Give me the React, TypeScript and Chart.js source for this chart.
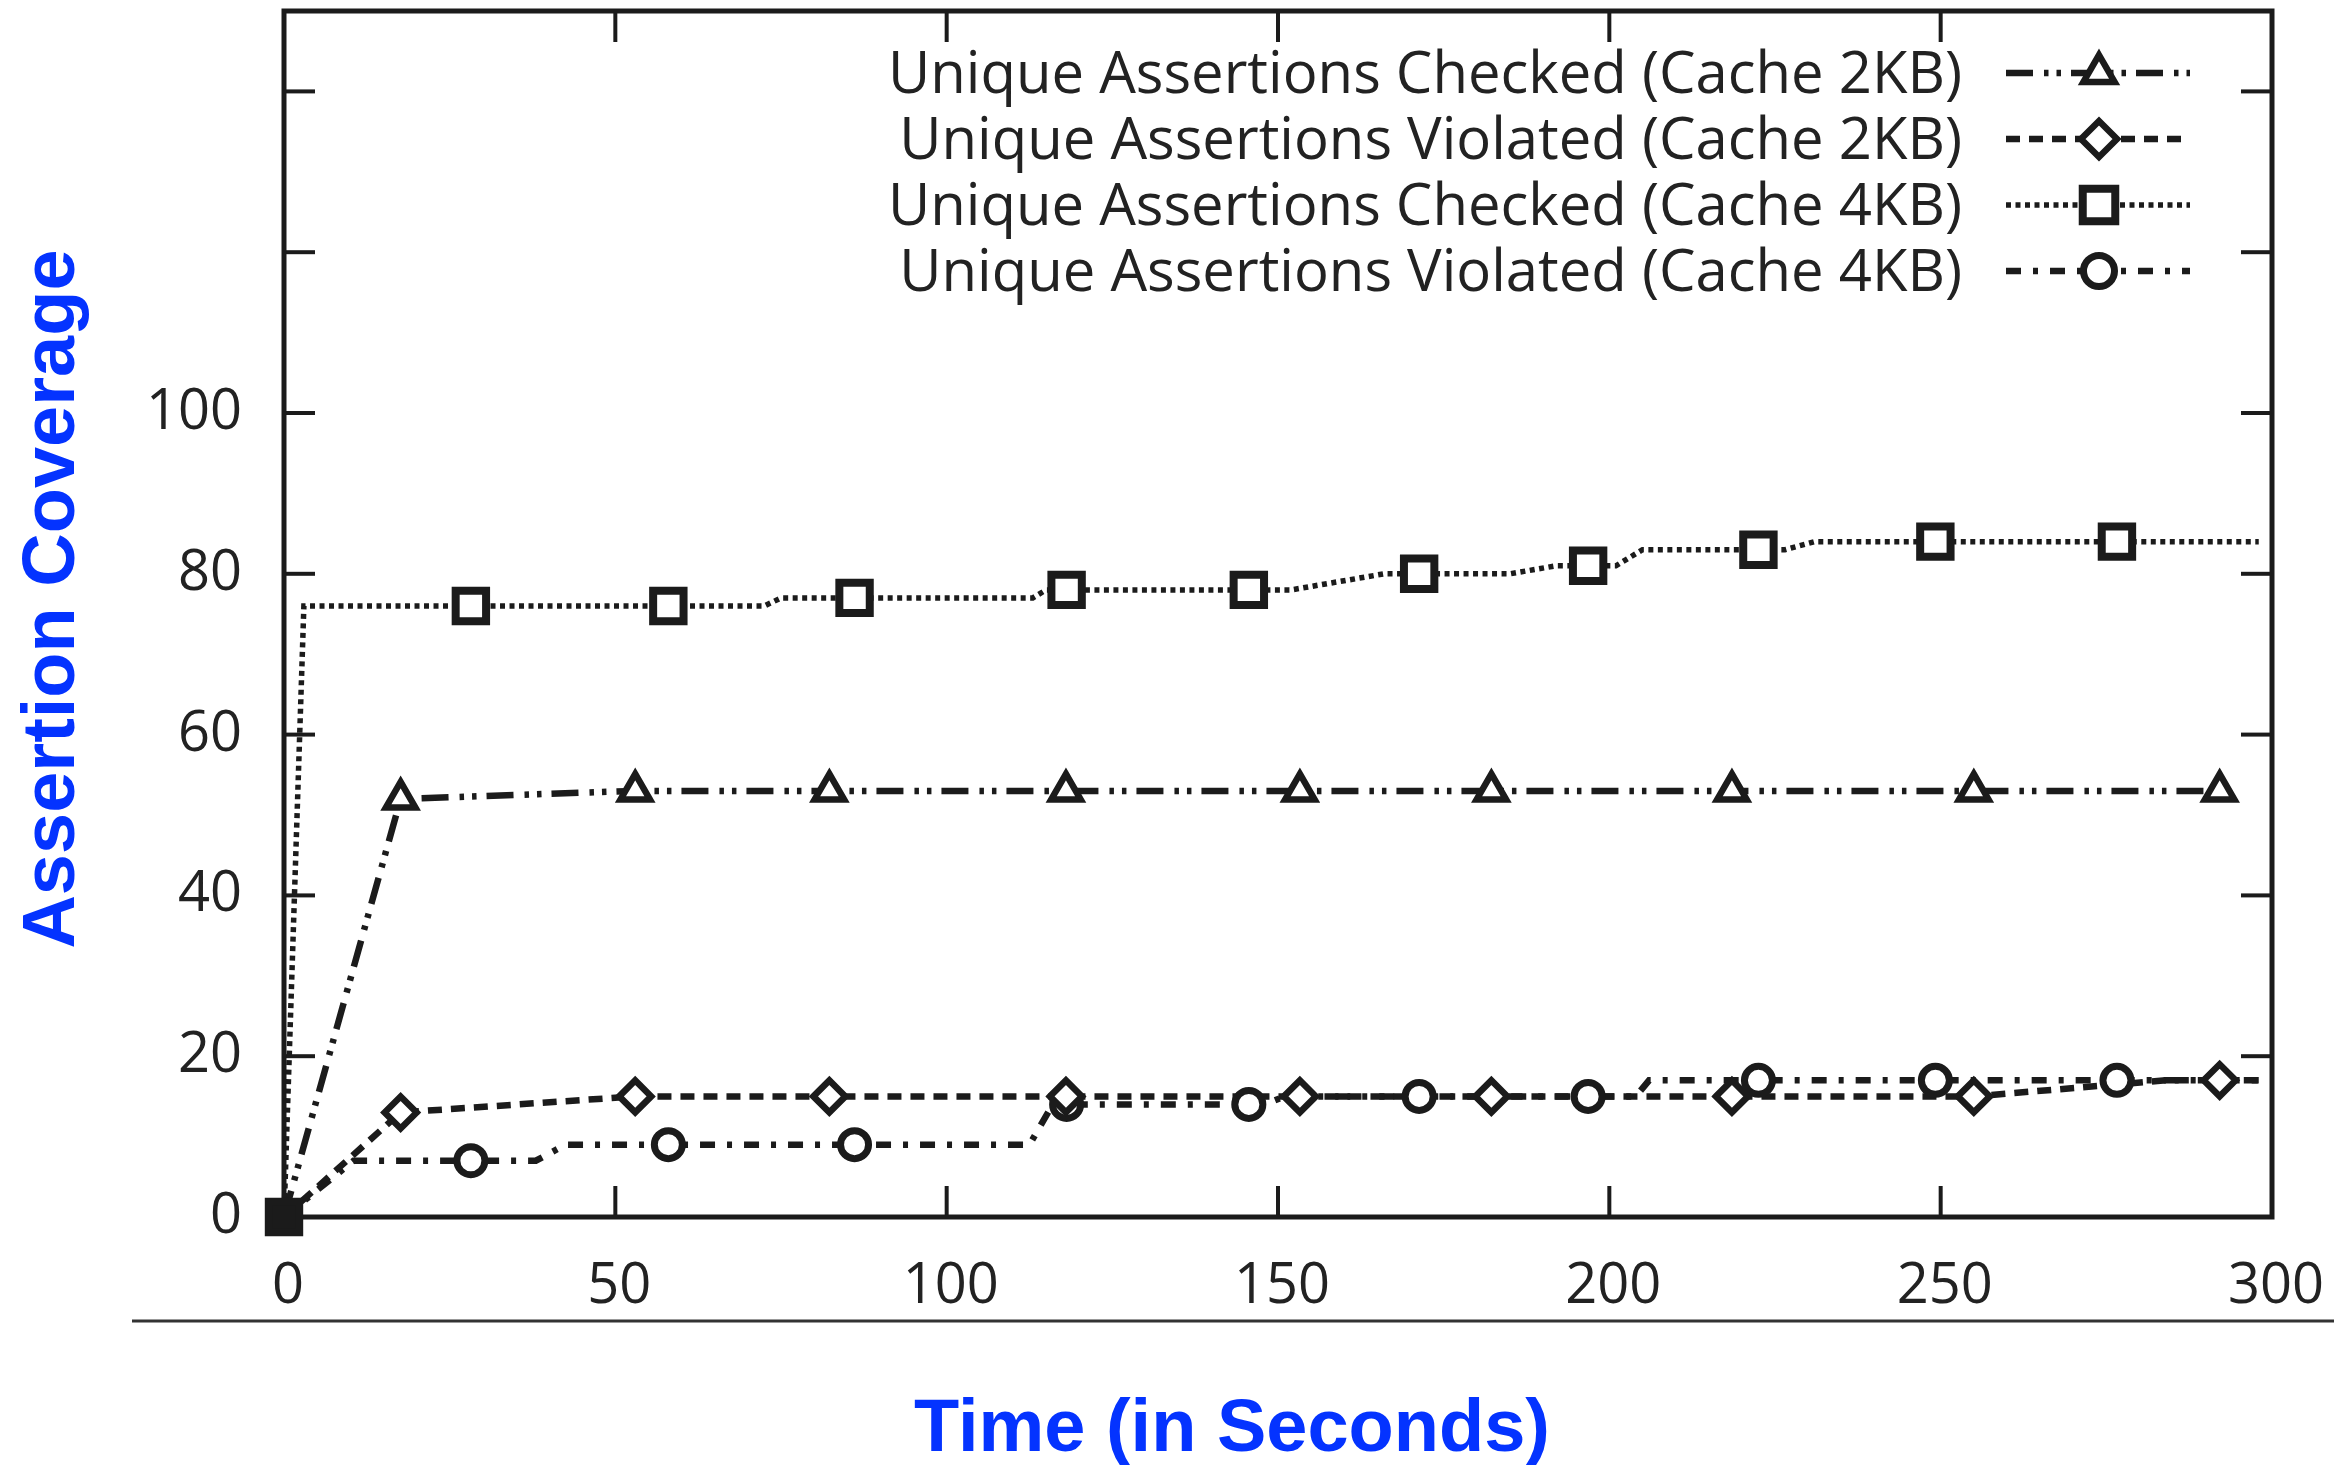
import React, { useEffect, useRef } from 'react';
import { Chart, registerables } from 'chart.js';
import { drawPoint } from 'chart.js/helpers';

Chart.register(...registerables);

// ---------- data ----------
const X_TICK_VALUES = [0, 50, 100, 150, 200, 250, 300];
const Y_TICK_VALUES = [0, 20, 40, 60, 80, 100, 120, 140];
const Y_LABEL_MAX = 100;
const X_MIN = 0;
const X_MAX = 300;
const Y_MIN = 0;
const Y_MAX = 150;

const SERIES_LABELS = [
  'Unique Assertions Checked (Cache 2KB)',
  'Unique Assertions Violated (Cache 2KB)',
  'Unique Assertions Checked (Cache 4KB)',
  'Unique Assertions Violated (Cache 4KB)',
];

const X_TITLE = 'Time (in Seconds)';
const Y_TITLE = 'Assertion Coverage';

// Checked 2KB (triangles)
const checked2kbLineX = [0, 17.6, 53, 82.3, 118, 153.3, 182.2, 218.5, 255, 292.1];
const checked2kbLineY = [0, 52, 53, 53, 53, 53, 53, 53, 53, 53];
const checked2kbMarkX = [17.6, 53, 82.3, 118, 153.3, 182.2, 218.5, 255, 292.1];
const checked2kbMarkY = [52, 53, 53, 53, 53, 53, 53, 53, 53];

// Violated 2KB (diamonds)
const violated2kbLineX = [0, 17.6, 53, 82.3, 118, 153.3, 182.2, 218.5, 255, 284, 292.1, 298];
const violated2kbLineY = [0, 13, 15, 15, 15, 15, 15, 15, 15, 17, 17, 17];
const violated2kbMarkX = [17.6, 53, 82.3, 118, 153.3, 182.2, 218.5, 255, 292.1];
const violated2kbMarkY = [13, 15, 15, 15, 15, 15, 15, 15, 17];

// Checked 4KB (squares)
const checked4kbLineX = [0, 3, 72.5, 75, 113, 115, 152, 166, 185, 192, 201, 205, 226.5, 231, 298];
const checked4kbLineY = [0, 76, 76, 77, 77, 78, 78, 80, 80, 81, 81, 83, 83, 84, 84];
const checked4kbMarkX = [0, 28.2, 58, 86.1, 118.1, 145.6, 171.3, 196.8, 222.5, 249.2, 276.6];
const checked4kbMarkY = [0, 76, 76, 77, 78, 78, 80, 81, 83, 84, 84];

// Violated 4KB (circles)
const violated4kbLineX = [0, 10.5, 38, 42.5, 112.5, 116, 148, 151, 204, 206, 298];
const violated4kbLineY = [0, 7, 7, 9, 9, 14, 14, 15, 15, 17, 17];
const violated4kbMarkX = [28.2, 58, 86.1, 118.1, 145.6, 171.3, 196.8, 222.5, 249.2, 276.6];
const violated4kbMarkY = [7, 9, 9, 14, 14, 15, 15, 17, 17, 17];

// ---------- styles ----------
const W = 2348;
const H = 1465;
const INK = '#1b1b1b';
const TEXT = '#222222';
const BLUE = '#0433ff';
const TICK_FONT = '"Open Sans", "DejaVu Sans", sans-serif';
const TITLE_FONT = '"Liberation Sans", Arial, sans-serif';

const STYLES = [
  { dash: [27, 11, 4.5, 8, 4.5, 10], width: 6.5, point: 'triangle', radius: 17, pbw: 6.5, legendRadius: 18 },
  { dash: [14, 9], width: 6.5, point: 'rectRot', radius: 16, pbw: 6.5, legendRadius: 18 },
  { dash: [5, 4.5], width: 5.5, point: 'rect', radius: 21.5, pbw: 8, legendRadius: 23 },
  { dash: [15, 12, 5, 12], width: 6.5, point: 'circle', radius: 14, pbw: 7, legendRadius: 15.5 },
];

const zipXY = (xs: number[], ys: number[]) => xs.map((x, i) => ({ x, y: ys[i] }));

const LINES = [
  zipXY(checked2kbLineX, checked2kbLineY),
  zipXY(violated2kbLineX, violated2kbLineY),
  zipXY(checked4kbLineX, checked4kbLineY),
  zipXY(violated4kbLineX, violated4kbLineY),
];
const MARKS = [
  zipXY(checked2kbMarkX, checked2kbMarkY),
  zipXY(violated2kbMarkX, violated2kbMarkY),
  zipXY(checked4kbMarkX, checked4kbMarkY),
  zipXY(violated4kbMarkX, violated4kbMarkY),
];

const framePlugin = {
  id: 'frame',
  beforeDatasetsDraw(chart: any) {
    const { ctx, chartArea: a, scales } = chart;
    ctx.save();
    ctx.strokeStyle = INK;
    ctx.setLineDash([]);
    ctx.lineWidth = 4;
    const tl = 31;
    const seg = (x1: number, y1: number, x2: number, y2: number) => {
      ctx.beginPath();
      ctx.moveTo(x1, y1);
      ctx.lineTo(x2, y2);
      ctx.stroke();
    };
    for (const v of X_TICK_VALUES) {
      if (v <= X_MIN || v >= X_MAX) continue;
      const px = scales.x.getPixelForValue(v);
      seg(px, a.bottom, px, a.bottom - tl);
      seg(px, a.top, px, a.top + tl);
    }
    for (const v of Y_TICK_VALUES) {
      if (v <= Y_MIN || v >= Y_MAX) continue;
      const py = scales.y.getPixelForValue(v);
      seg(a.left, py, a.left + tl, py);
      seg(a.right, py, a.right - tl, py);
    }
    ctx.lineWidth = 5;
    ctx.strokeRect(a.left, a.top, a.right - a.left, a.bottom - a.top);
    ctx.restore();
  },
  afterDraw(chart: any) {
    const { ctx } = chart;
    ctx.save();
    // separator line under x tick labels
    ctx.strokeStyle = '#333333';
    ctx.lineWidth = 3;
    ctx.setLineDash([]);
    ctx.beginPath();
    ctx.moveTo(132, 1321);
    ctx.lineTo(2334, 1321);
    ctx.stroke();

    // axis titles
    ctx.fillStyle = BLUE;
    ctx.font = `bold 74px ${TITLE_FONT}`;
    ctx.textAlign = 'center';
    ctx.textBaseline = 'alphabetic';
    ctx.fillText(X_TITLE, 1232, 1451);
    ctx.save();
    ctx.translate(74, 599);
    ctx.rotate(-Math.PI / 2);
    ctx.fillText(Y_TITLE, 0, 0);
    ctx.restore();

    // legend
    const rowY = [73, 139, 205, 271];
    ctx.font = `58px ${TICK_FONT}`;
    ctx.textAlign = 'right';
    for (let i = 0; i < SERIES_LABELS.length; i++) {
      const s = STYLES[i];
      const y = rowY[i];
      ctx.fillStyle = TEXT;
      ctx.fillText(SERIES_LABELS[i], 1962, y + 20);
      ctx.strokeStyle = INK;
      ctx.lineWidth = s.width;
      ctx.lineCap = 'butt';
      ctx.setLineDash(s.dash);
      ctx.beginPath();
      ctx.moveTo(2006, y);
      ctx.lineTo(2190, y);
      ctx.stroke();
      ctx.setLineDash([]);
      ctx.lineWidth = s.pbw;
      ctx.fillStyle = '#ffffff';
      ctx.strokeStyle = INK;
      drawPoint(ctx, { pointStyle: s.point, radius: s.legendRadius, borderWidth: s.pbw, rotation: 0 } as any, 2099, y);
    }
    ctx.restore();
  },
};

export default function App() {
  const ref = useRef<HTMLCanvasElement | null>(null);

  useEffect(() => {
    document.body.style.margin = '0';
    let chart: Chart | null = null;
    let cancelled = false;

    const build = () => {
      if (cancelled || !ref.current) return;
      const datasets: any[] = [];
      LINES.forEach((pts, i) => {
        const s = STYLES[i];
        datasets.push({
          label: SERIES_LABELS[i] + ' line',
          data: pts,
          borderColor: INK,
          borderWidth: s.width,
          borderDash: s.dash,
          borderCapStyle: 'butt',
          pointRadius: 0,
          tension: 0,
          fill: false,
          order: 2,
          clip: false,
        });
      });
      MARKS.forEach((pts, i) => {
        const s = STYLES[i];
        datasets.push({
          label: SERIES_LABELS[i],
          data: pts,
          showLine: false,
          pointStyle: s.point,
          pointRadius: s.radius,
          pointBorderWidth: s.pbw,
          pointBorderColor: INK,
          pointBackgroundColor: (c: any) =>
            pts[c.dataIndex] && pts[c.dataIndex].x === 0 && pts[c.dataIndex].y === 0 ? INK : '#ffffff',
          order: i === 2 ? 0 : 1,
          clip: false,
        });
      });

      chart = new Chart(ref.current, {
        type: 'line',
        data: { datasets },
        options: {
          animation: false,
          responsive: false,
          devicePixelRatio: 1,
          events: [],
          layout: { autoPadding: false, padding: { left: 0, right: 76, top: 11, bottom: 0 } },
          plugins: {
            legend: { display: false },
            tooltip: { enabled: false },
            title: { display: false },
          },
          scales: {
            x: {
              type: 'linear',
              min: X_MIN,
              max: X_MAX,
              afterFit: (s: any) => {
                s.height = 248;
                s.paddingLeft = 0;
                s.paddingRight = 0;
              },
              afterBuildTicks: (s: any) => {
                s.ticks = X_TICK_VALUES.map((v) => ({ value: v }));
              },
              ticks: {
                autoSkip: false,
                maxRotation: 0,
                padding: 36,
                labelOffset: 4,
                color: TEXT,
                font: { family: TICK_FONT, size: 56 },
                callback: (v: any) => String(v),
              },
              grid: { display: false, drawTicks: false },
              border: { display: false },
            },
            y: {
              type: 'linear',
              min: Y_MIN,
              max: Y_MAX,
              afterFit: (s: any) => {
                s.width = 284;
                s.paddingTop = 0;
                s.paddingBottom = 0;
              },
              afterBuildTicks: (s: any) => {
                s.ticks = Y_TICK_VALUES.map((v) => ({ value: v }));
              },
              ticks: {
                autoSkip: false,
                padding: 42,
                color: TEXT,
                font: { family: TICK_FONT, size: 56 },
                callback: (v: any) => (Number(v) <= Y_LABEL_MAX ? String(v) : null),
              },
              grid: { display: false, drawTicks: false },
              border: { display: false },
            },
          },
        } as any,
        plugins: [framePlugin],
      });
    };

    const fontsReady = (document as any).fonts
      ? Promise.all([
          (document as any).fonts.load(`56px "Open Sans"`),
          (document as any).fonts.load(`bold 74px "Liberation Sans"`),
        ]).catch(() => null)
      : Promise.resolve(null);
    fontsReady.then(build);

    return () => {
      cancelled = true;
      if (chart) chart.destroy();
    };
  }, []);

  return (
    <canvas
      ref={ref}
      width={W}
      height={H}
      style={{ display: 'block', width: W + 'px', height: H + 'px' }}
    />
  );
}
